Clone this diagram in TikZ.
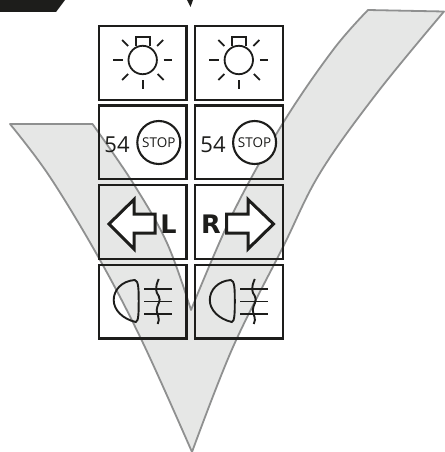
\documentclass[tikz,border=0pt]{standalone}
\usepackage{fontspec}
\setmainfont{Open Sans}
\newfontfamily\boldf{DejaVu Sans}
\definecolor{chk}{HTML}{E6E7E6}
\definecolor{chkline}{HTML}{8F9090}
\definecolor{ink}{HTML}{1D1D1B}
\tikzset{
  px/.style={x=1pt,y=-1pt},
  cell/.style={draw=ink,line width=2.3pt,minimum width=87.7pt,minimum height=73.7pt,inner sep=0pt,outer sep=0pt},
  sym/.style={draw=ink,line width=1.8pt,line cap=butt},
  arrowsym/.style={draw=ink,fill=white,line width=3pt,miter limit=10},
  stopring/.style={draw=ink,line width=2.1pt,circle,minimum size=43pt,inner sep=0pt,outer sep=0pt,fill=white},
}
\newcommand{\bulbsym}[2]{%
  \begin{scope}[shift={(#1,#2)}]
    \draw[sym] (0,0) circle (14.2);
    \draw[sym] (-6.5,-14) -- (-6.5,-23) -- (7,-23) -- (7,-14);
    \draw[sym,line width=1.9pt] (-29.5,0) -- (-20,0) (21,0) -- (29.5,0) (0,20) -- (0,29);
    \draw[sym] (-20.5,-20) -- (-14.5,-14) (20.5,-20) -- (14.5,-14) (-20.5,20) -- (-14.5,14) (21,20) -- (15,14);
  \end{scope}}
\newcommand{\fogsym}[2]{%
  \begin{scope}[shift={(#1,#2)}]
    \draw[sym,line width=1.9pt] (-8,-21) .. controls (-21,-20) and (-29,-11) .. (-29,-1)
      .. controls (-29,9) and (-20,18) .. (-7,21) .. controls (-4,21) and (-4,10) .. (-4,0)
      .. controls (-4,-10) and (-4,-21) .. (-8,-21) -- cycle;
    \draw[sym,line width=1.9pt] (1.5,-12) -- (29.5,-12) (1.5,0.5) -- (29.5,0.5) (1.5,13) -- (29.5,13);
    \draw[sym,line width=1.9pt] (16,-22) .. controls (12,-13) and (13,-9) .. (16,-5)
      .. controls (19,0) and (14,4) .. (14,9) .. controls (14,14) and (18,17) .. (15,23);
  \end{scope}}
\begin{document}
\begin{tikzpicture}[px]
\useasboundingbox (0,0) rectangle (444,452);
% check mark
\path[fill=chk,draw=chkline,line width=1.8pt,line join=round]
  (10,124) -- (92.5,124)
  -- plot[smooth,tension=.6] coordinates {(92.5,124) (133,183) (167,243) (191,310)}
  -- plot[smooth,tension=.6] coordinates {(191,310) (233,213) (283,123) (333,50) (368,10)}
  -- (444,11.5)
  -- plot[smooth,tension=.6] coordinates {(444,11.5) (377,93) (320,173) (283,247) (233,347) (192,452)}
  -- plot[smooth,tension=.6] coordinates {(192,452) (143,343) (100,260) (50,177) (10,124)}
  -- cycle;
% black fragments at the top
\fill[ink] (0,0) -- (65,0) -- (56,12) -- (0,12) -- cycle;
\fill[ink] (187,0) -- (190.5,7) -- (193,0) -- cycle;
% cells
\node[cell] (a1) at (142.7,63) {};
\node[cell] (b1) at (238.8,63) {};
\node[cell] (a2) at (142.7,142.3) {};
\node[cell] (b2) at (238.8,142.3) {};
\node[cell] (a3) at (142.7,222) {};
\node[cell] (b3) at (238.8,222) {};
\node[cell] (a4) at (142.7,301.6) {};
\node[cell] (b4) at (238.8,301.6) {};
\bulbsym{142.7}{60}
\bulbsym{238.8}{60}
% stop cells
\node[stopring] (s1) at (158.8,142.5) {};
\node[stopring] (s2) at (254.6,142.5) {};
\node[font=\fontsize{13.5}{14}\selectfont,text=ink,inner sep=0pt] (t1) at (158.8,142.3) {STOP};
\node[font=\fontsize{13.5}{14}\selectfont,text=ink,inner sep=0pt] (t2) at (254.6,142.3) {STOP};
\node[font=\fontsize{22}{24}\selectfont,text=ink,inner sep=0pt] (n1) at (117,144.5) {54};
\node[font=\fontsize{22}{24}\selectfont,text=ink,inner sep=0pt] (n2) at (213,144.5) {54};
% arrows
\draw[arrowsym] (109,224) -- (134,199.5) -- (134,214) -- (155,214) -- (155,233) -- (134,233) -- (134,249) -- cycle;
\draw[arrowsym] (273.5,224) -- (248,199.5) -- (248,214) -- (226.5,214) -- (226.5,233) -- (248,233) -- (248,249) -- cycle;
\node[font=\boldf\bfseries\fontsize{25.5}{26}\selectfont,text=ink,inner sep=0pt] (l) at (168.5,224.5) {L};
\node[font=\boldf\bfseries\fontsize{25.5}{26}\selectfont,text=ink,inner sep=0pt] (r) at (211,224.5) {R};
\fogsym{142.7}{301}
\fogsym{238.8}{301}
\end{tikzpicture}
\end{document}
